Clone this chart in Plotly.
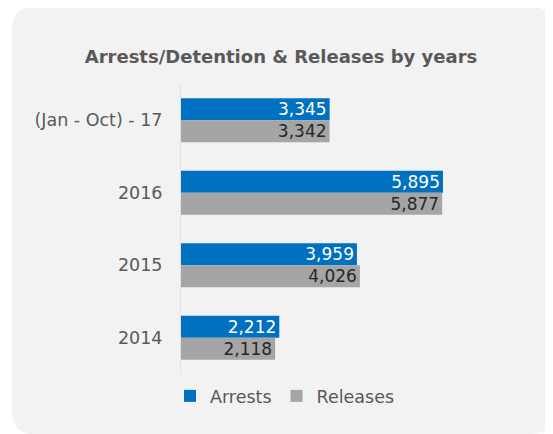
import plotly.graph_objects as go

categories = ["(Jan - Oct) - 17", "2016", "2015", "2014"]
arrests = [3345, 5895, 3959, 2212]
releases = [3342, 5877, 4026, 2118]
series_names = ["Arrests", "Releases"]

OFF = 8  # default page body margin
W, H = 553 - OFF, 434 - OFF
FONT = "DejaVu Sans"

def px(x):
    return (x - OFF) / W

def py(y):
    return 1 - (y - OFF) / H

fig = go.Figure()
fig.add_trace(go.Bar(
    y=categories, x=arrests, name=series_names[0], orientation="h",
    marker=dict(color="#0070C0", line=dict(width=0)),
    text=[f"{v:,}" for v in arrests], textposition="inside",
    insidetextanchor="end", textangle=0,
    textfont=dict(color="white", size=17, family=FONT),
))
fig.add_trace(go.Bar(
    y=categories, x=releases, name=series_names[1], orientation="h",
    marker=dict(color="#A5A5A5", line=dict(width=0)),
    text=[f"{v:,}" for v in releases], textposition="inside",
    insidetextanchor="end", textangle=0,
    textfont=dict(color="#262626", size=17, family=FONT),
))

# rounded card background
x0, y0, x1, y1, r = 12, 7, 553, 434, 22
path = (
    f"M {px(x0+r)},{py(y0)} L {px(x1-r)},{py(y0)} "
    f"Q {px(x1)},{py(y0)} {px(x1)},{py(y0+r)} "
    f"L {px(x1)},{py(y1-r)} Q {px(x1)},{py(y1)} {px(x1-r)},{py(y1)} "
    f"L {px(x0+r)},{py(y1)} Q {px(x0)},{py(y1)} {px(x0)},{py(y1-r)} "
    f"L {px(x0)},{py(y0+r)} Q {px(x0)},{py(y0)} {px(x0+r)},{py(y0)} Z"
)

fig.update_layout(
    width=W, height=H, autosize=False,
    margin=dict(l=0, r=0, t=0, b=0),
    paper_bgcolor="white", plot_bgcolor="rgba(0,0,0,0)",
    font=dict(family=FONT, color="#595959"),
    title=dict(text="<b>Arrests/Detention & Releases by years</b>",
               x=px(281), xanchor="center", y=py(57), yanchor="middle",
               yref="container", xref="container",
               font=dict(size=18, color="#595959", family=FONT)),
    barmode="group", bargap=0.39, bargroupgap=0,
    uniformtext=dict(minsize=17, mode="show"),
    shapes=[dict(type="path", path=path, xref="paper", yref="paper",
                 fillcolor="#F2F2F2", line=dict(width=0), layer="below")],
    xaxis=dict(domain=[px(181), px(181 + 6500 * 0.04444)], range=[0, 6500],
               visible=False, showgrid=False, zeroline=False),
    yaxis=dict(domain=[py(374), py(84)], autorange="reversed",
               categoryorder="array", categoryarray=categories,
               showline=True, linecolor="#E3E3E3", linewidth=1,
               ticks="", ticklen=0, automargin=False,
               tickfont=dict(size=17.5, color="#595959", family=FONT),
               ticklabelstandoff=14, showgrid=False),
    legend=dict(orientation="h", x=px(285), xanchor="center",
                y=py(396), yanchor="middle", bgcolor="rgba(0,0,0,0)",
                font=dict(size=17.5, color="#595959", family=FONT),
                itemwidth=30, traceorder="normal"),
    showlegend=True,
)

fig.write_html("out.html")
